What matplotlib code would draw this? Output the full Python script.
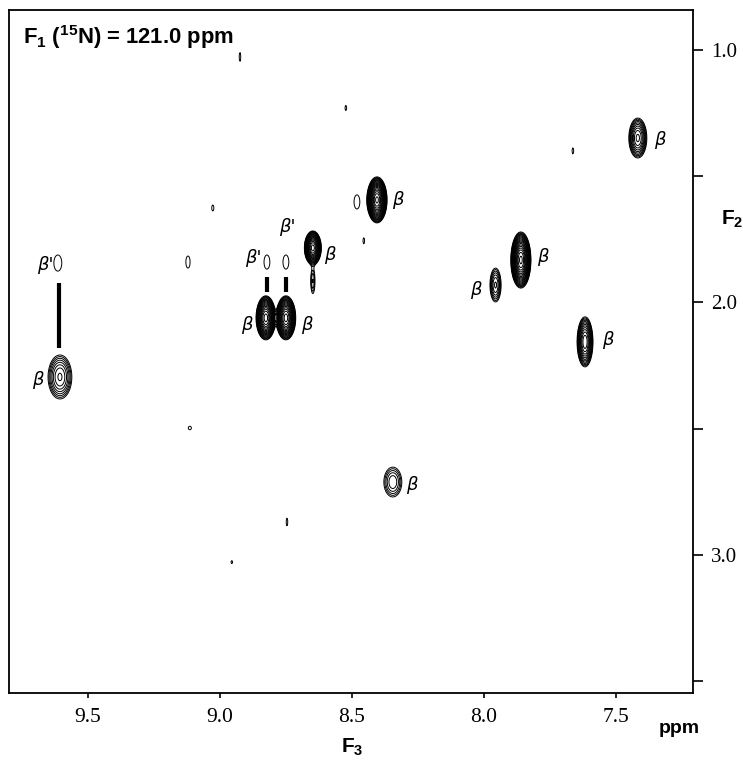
import numpy as np
import matplotlib.pyplot as plt

# cross peaks: F3 (ppm), F2 (ppm), half widths of the lowest contour, height
peak_f3 = [7.417, 8.405, 8.481, 8.648, 8.648, 8.826, 8.750, 8.822, 8.750,
           7.860, 7.956, 7.617, 9.606, 9.614, 8.345]
peak_f2 = [1.349, 1.594, 1.602, 1.784, 1.915, 2.061, 2.061, 1.840, 1.840,
           1.832, 1.931, 2.156, 2.295, 1.844, 2.711]
peak_wx = [0.034, 0.038, 0.011, 0.032, 0.008, 0.037, 0.037, 0.011, 0.011,
           0.038, 0.021, 0.030, 0.045, 0.015, 0.034]
peak_wy = [0.079, 0.091, 0.028, 0.067, 0.050, 0.087, 0.087, 0.028, 0.028,
           0.111, 0.067, 0.099, 0.087, 0.032, 0.059]
peak_amp = [8, 60, 1.2, 40, 2.0, 40, 40, 1.2, 1.2,
            60, 4, 14, 5, 1.2, 3]

# small noise spots
noise_f3 = [8.924, 9.027, 8.523, 9.121, 8.455, 7.663, 9.114, 8.746, 8.955]
noise_f2 = [1.028, 1.626, 1.230, 1.840, 1.756, 1.400, 2.497, 2.869, 3.028]
noise_wx = [0.003, 0.004, 0.003, 0.008, 0.003, 0.003, 0.006, 0.003, 0.003]
noise_wy = [0.018, 0.012, 0.010, 0.024, 0.012, 0.012, 0.007, 0.016, 0.006]

# assignment labels (anchored on the peaks above)
lab_f3 = [7.417, 8.405, 8.648, 8.826, 8.750, 7.860, 7.956, 7.617, 9.606, 8.345,
          9.614, 8.822, 8.750]
lab_f2 = [1.349, 1.594, 1.784, 2.061, 2.061, 1.832, 1.931, 2.156, 2.295, 2.711,
          1.844, 1.840, 1.840]
lab_txt = ["β"] * 10 + ["β'", "β'", "β'"]
lab_dx = [15.8, 15.1, 12.2, -13.7, 15.1, 15.8, -14.4, 16.6, -15.8, 13.7, -9.4, -10.1, 0.7]
lab_dy = [-1.4, 0.0, -5.0, -5.0, -5.0, 2.2, -3.6, 1.4, -2.2, -2.2, -1.4, 2.9, 25.2]

# bars linking beta' to beta
link_f3 = [9.610, 8.822, 8.750]
link_top = [1.923, 1.899, 1.899]
link_bot = [2.180, 1.958, 1.958]

plt.rcParams['mathtext.fontset'] = 'custom'
plt.rcParams['mathtext.rm'] = 'Liberation Sans:bold'
plt.rcParams['mathtext.default'] = 'rm'

x = np.linspace(7.15, 9.85, 1000)
y = np.linspace(0.8, 3.6, 1000)
X, Y = np.meshgrid(x, y)
Z = np.zeros_like(X)
for px, py, wx, wy, a in zip(peak_f3, peak_f2, peak_wx, peak_wy, peak_amp):
    k = np.sqrt(2 * np.log(a))
    sx, sy = wx / k, wy / k
    Z += a * np.exp(-((X - px) ** 2 / (2 * sx ** 2) + (Y - py) ** 2 / (2 * sy ** 2)))
for px, py, wx, wy in zip(noise_f3, noise_f2, noise_wx, noise_wy):
    a = 1.2
    k = np.sqrt(2 * np.log(a))
    Z += a * np.exp(-((X - px) ** 2 / (2 * (wx / k) ** 2) + (Y - py) ** 2 / (2 * (wy / k) ** 2)))

levels = 1.0 * 1.25 ** np.arange(0, 20)

fig = plt.figure(figsize=(7.43, 7.60), dpi=100)
ax = fig.add_axes([0.0121, 0.0882, 0.9206, 0.8987])
ax.contour(X, Y, Z, levels=levels, colors='black', linewidths=0.7)
ax.vlines(link_f3, link_top, link_bot, colors='black', linewidth=3)

for lx, ly, t, dx, dy in zip(lab_f3, lab_f2, lab_txt, lab_dx, lab_dy):
    ax.annotate(t, (lx, ly), xytext=(dx, dy), textcoords='offset points',
                ha='center', va='center', fontsize=13, style='italic',
                family='DejaVu Sans')

ax.set_xlim(9.799, 7.208)
ax.set_ylim(3.546, 0.842)
ax.set_xticks([9.5, 9.0, 8.5, 8.0, 7.5])
ax.set_xticklabels(['9.5', '9.0', '8.5', '8.0', '7.5'], family='Liberation Serif', fontsize=15.5)
ax.tick_params(axis='x', length=3.6, width=1.2, pad=7)
ax.yaxis.tick_right()
ax.set_yticks([1.0, 1.5, 2.0, 2.5, 3.0, 3.5])
ax.set_yticklabels(['1.0', '', '2.0', '', '3.0', ''], family='Liberation Serif', fontsize=15)
ax.tick_params(axis='y', length=7, width=1.2, pad=6)
for s in ax.spines.values():
    s.set_linewidth(1.3)

fig.text(0.031, 0.951, r"F$_1$ ($^{15}$N) = 121.0 ppm", fontsize=15.8, fontweight='bold',
         family='Liberation Sans', va='center', ha='left')
fig.text(0.985, 0.711, r"F$_2$", fontsize=15, fontweight='bold', family='Liberation Sans',
         ha='center', va='center')
fig.text(0.474, 0.016, r"F$_3$", fontsize=15, fontweight='bold', family='Liberation Sans',
         ha='center', va='center')
fig.text(0.914, 0.041, "ppm", fontsize=14, fontweight='bold', family='Liberation Sans',
         ha='center', va='center')

fig.savefig('out.png', dpi=100)
